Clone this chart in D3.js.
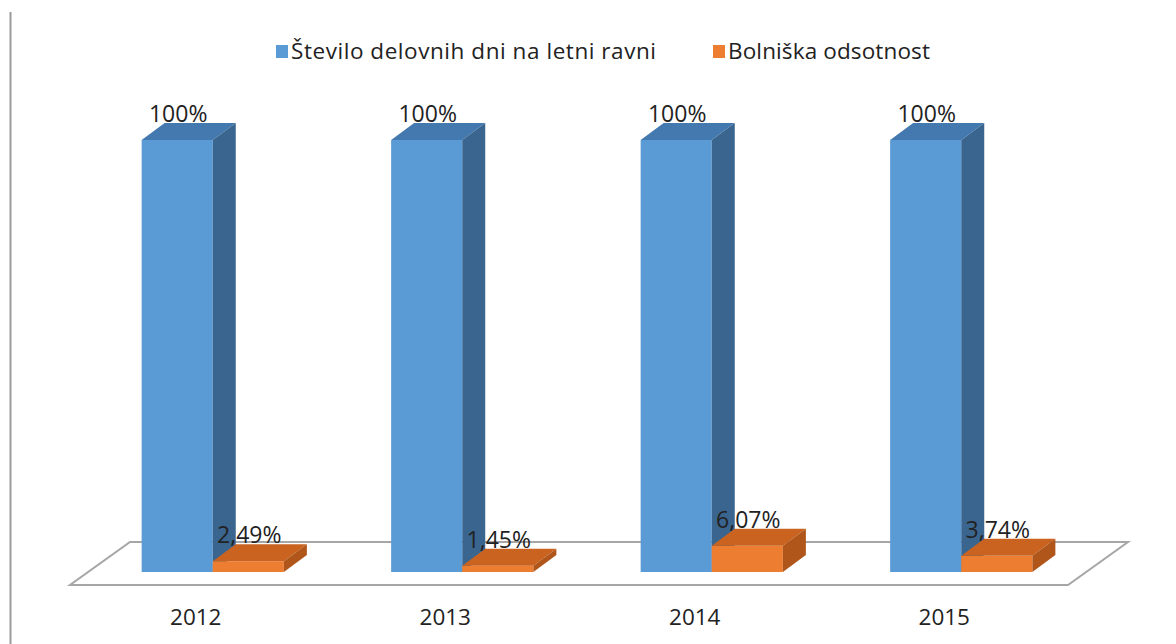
<!DOCTYPE html>
<html>
<head>
<meta charset="utf-8">
<script src="https://cdn.jsdelivr.net/npm/d3@7"></script>
<style>
    body { margin: 0; background: #fff; }
    text { font-family: "Open Sans", sans-serif; fill: #222; }
</style>
</head>
<body>
<script>
//Chart data
var years = ["2012", "2013", "2014", "2015"];
var seriesNames = ["Število delovnih dni na letni ravni", "Bolniška odsotnost"];
var workDays = [100, 100, 100, 100];
var sickLeave = [2.49, 1.45, 6.07, 3.74];

var colors = [
    {front: "#5b9bd5", top: "#4479b0", side: "#3a658f"},
    {front: "#ed7d31", top: "#c9631f", side: "#b0561b"}
];

var width = 1176, height = 644;
var base = 572;             // bottom of the bars, front plane
var depth = {dx: 23, dy: -17};

var svg = d3.select("body").append("svg")
    .attr("width", width)
    .attr("height", height);

//Left frame line
svg.append("line")
    .attr("x1", 10.5).attr("x2", 10.5)
    .attr("y1", 12).attr("y2", height)
    .attr("stroke", "#9a9a9a")
    .attr("stroke-width", 2);

//Scales
var x = d3.scaleBand()
    .domain(years)
    .range([88, 1086]);

var xSub = d3.scaleBand()
    .domain(seriesNames)
    .range([x.bandwidth() * 0.215, x.bandwidth() * 0.785]);

var y = d3.scaleLinear()
    .domain([0, 100])
    .range([base, 140]);

//Floor (parallelogram)
var x0 = x.range()[0], x1 = x.range()[1];
var floor = [
    [x0 - 18, base + 13], [x1 - 18, base + 13],
    [x1 + 42, base - 30], [x0 + 42, base - 30]
];
svg.append("polygon")
    .attr("points", floor.map(function(p) { return p.join(","); }).join(" "))
    .attr("fill", "#fff")
    .attr("stroke", "#a6a6a6")
    .attr("stroke-width", 2);

//Build bars
var fmt = d3.formatLocale({decimal: ",", thousands: ".",
    grouping: [3], currency: ["", "€"]}).format(".3~r");

var bars = [];
years.forEach(function(yr, i) {
    bars.push({year: yr, s: 0, value: workDays[i]});
    bars.push({year: yr, s: 1, value: sickLeave[i]});
});

var g = svg.selectAll("g.bar")
    .data(bars)
    .enter().append("g")
    .attr("class", "bar");

function bx(d) { return x(d.year) + xSub(seriesNames[d.s]); }
var w = xSub.bandwidth();

function pts(arr) {
    return arr.map(function(p) { return p.join(","); }).join(" ");
}

//Front face
g.append("rect")
    .attr("x", bx)
    .attr("y", function(d) { return y(d.value); })
    .attr("width", w)
    .attr("height", function(d) { return base - y(d.value); })
    .attr("fill", function(d) { return colors[d.s].front; });

//Top face
g.append("polygon")
    .attr("points", function(d) {
        var l = bx(d), t = y(d.value);
        return pts([[l, t], [l + w, t],
            [l + w + depth.dx, t + depth.dy], [l + depth.dx, t + depth.dy]]);
    })
    .attr("fill", function(d) { return colors[d.s].top; });

//Side face
g.append("polygon")
    .attr("points", function(d) {
        var r = bx(d) + w, t = y(d.value);
        return pts([[r, t], [r + depth.dx, t + depth.dy],
            [r + depth.dx, base + depth.dy], [r, base]]);
    })
    .attr("fill", function(d) { return colors[d.s].side; });

//Value labels
svg.selectAll("text.value")
    .data(bars)
    .enter().append("text")
    .attr("class", "value")
    .attr("x", function(d) { return bx(d) + w / 2 + 1; })
    .attr("y", function(d) { return y(d.value) + depth.dy - 1; })
    .attr("text-anchor", "middle")
    .style("font-size", "23px")
    .text(function(d) { return fmt(d.value) + "%"; });

//Category labels along the front edge of the floor
svg.selectAll("text.year")
    .data(years)
    .enter().append("text")
    .attr("class", "year")
    .attr("x", function(d) { return x(d) + x.bandwidth() / 2 - 17; })
    .attr("y", 625)
    .attr("text-anchor", "middle")
    .style("font-size", "22.5px")
    .text(function(d) { return d; });

//Legend
var legendX = [276, 713];
var legendLen = [365, 202];
var legend = svg.selectAll("g.legend")
    .data(seriesNames)
    .enter().append("g")
    .attr("class", "legend")
    .attr("transform", function(d, i) {
        return "translate(" + legendX[i] + ",45)";
    });

legend.append("rect")
    .attr("width", 12)
    .attr("height", 13)
    .attr("fill", function(d, i) { return colors[i].front; });

legend.append("text")
    .attr("x", 15)
    .attr("y", 14)
    .attr("textLength", function(d, i) { return legendLen[i]; })
    .attr("lengthAdjust", "spacing")
    .style("font-size", "22.5px")
    .text(function(d) { return d; });
</script>
</body>
</html>
